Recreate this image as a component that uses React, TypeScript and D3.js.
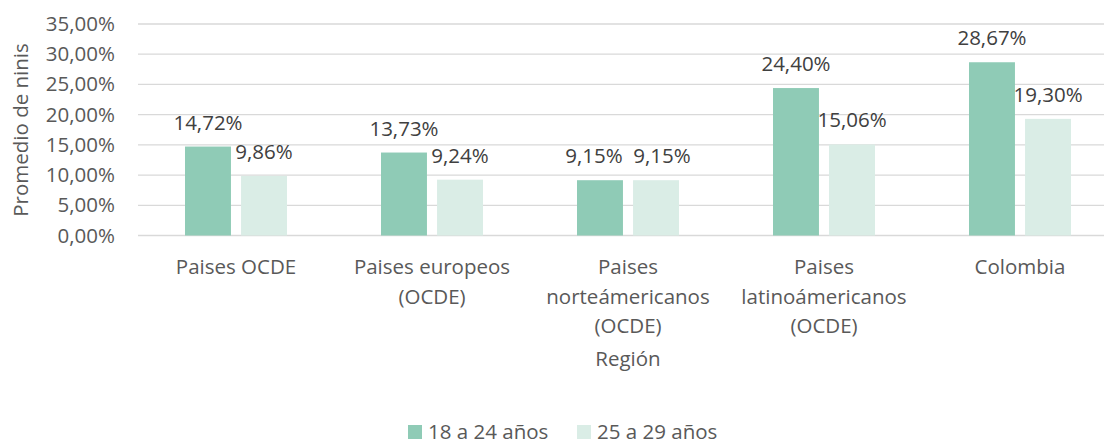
import React from 'react';
import * as d3 from 'd3';

const regions = [
  ['Paises OCDE'],
  ['Paises europeos', '(OCDE)'],
  ['Paises', 'norteámericanos', '(OCDE)'],
  ['Paises', 'latinoámericanos', '(OCDE)'],
  ['Colombia'],
];
const series = ['18 a 24 años', '25 a 29 años'];
const young = [14.72, 13.73, 9.15, 24.4, 28.67];
const older = [9.86, 9.24, 9.15, 15.06, 19.3];
const yTicks = [0, 5, 10, 15, 20, 25, 30, 35];
const colors = ['#8fcbb6', '#daede6'];

const fmt = (v: number) => v.toFixed(2).replace('.', ',') + '%';

export default function App() {
  const width = 1104;
  const height = 444;
  const left = 138;
  const right = 1118;
  const top = 24;
  const bottom = 235.5;
  const fs = 20.5;
  const font = '"Open Sans", sans-serif';
  const textColor = '#595959';

  const x = d3.scaleBand<number>().domain(d3.range(regions.length)).range([left, right]);
  const inner = d3.scaleBand<number>().domain([0, 1]).range([47, x.bandwidth() - 47]).paddingInner(0.18);
  const y = d3.scaleLinear().domain([0, 35]).range([bottom, top]);
  const data = [young, older];

  // push labels apart when two of a group sit at the same height
  const nudge = (s: number, i: number) => (Math.abs(y(young[i]) - y(older[i])) < 20 ? (s === 0 ? -6 : 6) : 0);

  return (
    <svg width={width} height={height} style={{ position: 'absolute', left: 0, top: 0 }} fontFamily={font}>
      <rect width={width} height={height} fill="#fff" />
      {yTicks.map((t) => (
        <g key={t}>
          <line x1={left} x2={right} y1={y(t)} y2={y(t)} stroke="#d9d9d9" strokeWidth={1.3} />
          <text x={115} y={y(t) + 7} textAnchor="end" fontSize={fs} fill={textColor}>
            {fmt(t)}
          </text>
        </g>
      ))}
      {data.map((vals, s) =>
        vals.map((v, i) => {
          const bx = (x(i) as number) + (inner(s) as number);
          return (
            <g key={`${s}-${i}`}>
              <rect x={bx} y={y(v)} width={inner.bandwidth()} height={bottom - y(v)} fill={colors[s]} />
              <text
                x={bx + inner.bandwidth() / 2 + nudge(s, i)}
                y={y(v) - 17}
                textAnchor="middle"
                fontSize={fs}
                fill="#404040"
              >
                {fmt(v)}
              </text>
            </g>
          );
        })
      )}
      {regions.map((lines, i) => (
        <text key={i} x={(x(i) as number) + x.bandwidth() / 2} y={274} textAnchor="middle" fontSize={fs} fill={textColor}>
          {lines.map((l, k) => (
            <tspan key={k} x={(x(i) as number) + x.bandwidth() / 2} dy={k === 0 ? 0 : 29.5}>
              {l}
            </tspan>
          ))}
        </text>
      ))}
      <text x={(left + right) / 2} y={366} textAnchor="middle" fontSize={fs} fill={textColor}>
        Región
      </text>
      <text transform={`translate(28,130) rotate(-90)`} textAnchor="middle" fontSize={fs} fill={textColor}>
        Promedio de ninis
      </text>
      {series.map((name, s) => {
        const lx = [408, 577][s];
        return (
          <g key={name}>
            <rect x={lx} y={425} width={14} height={14} fill={colors[s]} />
            <text x={lx + 20} y={438.5} fontSize={fs} fill={textColor}>
              {name}
            </text>
          </g>
        );
      })}
    </svg>
  );
}
